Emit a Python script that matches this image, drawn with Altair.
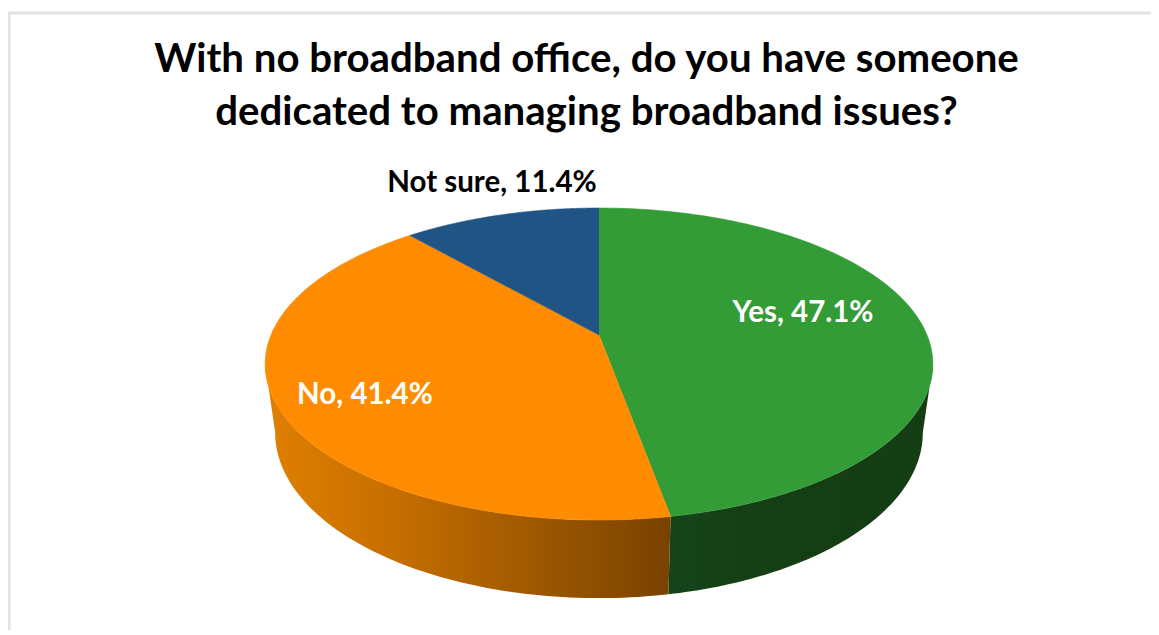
import math
import altair as alt
import pandas as pd

# ---- values
categories = ["Yes", "No", "Not sure"]
shares = [47.1, 41.4, 11.4]
title_lines = ["With no broadband office, do you have someone",
               "dedicated to managing broadband issues?"]

# ---- styles
slice_colors = {"Yes": "#339C36", "No": "#FF8C00", "Not sure": "#1F5485"}
label_colors = {"Yes": "#FFFFFF", "No": "#FFFFFF", "Not sure": "#000000"}
FONT = "Lato"
W, H, TOP = 1143, 482, 140

# ---- perspective model of the tilted disc (unit radius)
K = 0.186      # perspective strength
A = 150.6 / 328  # vertical foreshortening
WALL_SX, WALL_SY, WALL_DY = 0.97, 1.06, 67 / 328

def ring(t_deg, wall=False):
    t = math.radians(t_deg)
    sx, sy = math.sin(t), math.cos(t)
    d = 1 + K * sy
    px, py = sx / d, -A * sy / d
    if wall:
        px, py = px * WALL_SX, py * WALL_SY + WALL_DY
    return px, py

total = sum(shares)
edges = [0.0]
for s in shares:
    edges.append(edges[-1] + s / total * 360)

def frange(a, b, n=80):
    return [a + (b - a) * i / n for i in range(n + 1)]

xscale = alt.Scale(domain=[(8 - 599) / 328, (8 + W - 599) / 328])
yscale = alt.Scale(domain=[(8 + TOP + H - 335) / 328, (8 + TOP - 335) / 328])

def poly(points, fill):
    df = pd.DataFrame([{"i": i, "px": p[0], "py": p[1]} for i, p in enumerate(points)])
    kw = {"stroke": fill, "strokeWidth": 0.6} if isinstance(fill, str) else {"strokeWidth": 0}
    return alt.Chart(df).mark_line(fill=fill, **kw).encode(
        x=alt.X("px:Q", scale=xscale, axis=None),
        y=alt.Y("py:Q", scale=yscale, axis=None),
        order="i:Q",
    )

def gradient(stops):
    return alt.LinearGradient(gradient="linear", x1=0, x2=1, y1=0, y2=0,
                              stops=[alt.GradientStop(offset=o, color=c) for o, c in stops])

layers = []

# walls of the disc
left_extreme = 360 - math.degrees(math.acos(-K))
right_extreme = math.degrees(math.acos(-K))
seam = edges[1]
orange_wall = gradient([(0, "#E08000"), (0.35, "#C36C00"), (0.7, "#9A5600"), (1, "#794200")])
green_wall = gradient([(0, "#16441A"), (0.4, "#153E15"), (1, "#143D14")])
for a, b, fill in [(right_extreme, seam, green_wall), (seam, left_extreme, orange_wall)]:
    pts = [ring(t) for t in frange(a, b)] + [ring(t, True) for t in frange(b, a)]
    layers.append(poly(pts, fill))

# top face slices
for c, a, b in zip(categories, edges[:-1], edges[1:]):
    pts = [(0.0, 0.0)] + [ring(t) for t in frange(a, b, 120)]
    layers.append(poly(pts, slice_colors[c]))

# data labels
label_pos = {"Yes": (803, 313), "No": (365, 395), "Not sure": (492, 183)}
for c, s in zip(categories, shares):
    lx, ly = label_pos[c]
    df = pd.DataFrame({"label": [f"{c}, {s}%"]})
    layers.append(alt.Chart(df).mark_text(
        font=FONT, fontWeight="bold", fontSize=29.5, color=label_colors[c],
        align="center", baseline="middle").encode(
        x=alt.value(lx - 8), y=alt.value(ly - 8 - TOP), text="label:N"))

# frame of the picture
frame = pd.DataFrame({"k": ["frame"]})
layers.append(alt.Chart(frame).mark_rule(color="#E2E2E2", strokeWidth=3).encode(
    x=alt.value(0), x2=alt.value(W), y=alt.value(5 - TOP)))
layers.append(alt.Chart(frame).mark_rule(color="#E2E2E2", strokeWidth=3).encode(
    x=alt.value(1), y=alt.value(5 - TOP), y2=alt.value(H)))

chart = alt.layer(*layers).properties(
    width=W, height=H,
    background="white",
    autosize=alt.AutoSizeParams(type="none"),
    padding={"left": 0, "right": 0, "top": TOP, "bottom": 0},
    title=alt.TitleParams(text=title_lines, font=FONT, fontWeight="bold", fontSize=40.2,
                          color="#000000", lineHeight=53, anchor="middle", offset=-122, dx=7),
).configure_view(stroke=None)

chart.save("out.html", embed_options={"renderer": "svg", "actions": False})
